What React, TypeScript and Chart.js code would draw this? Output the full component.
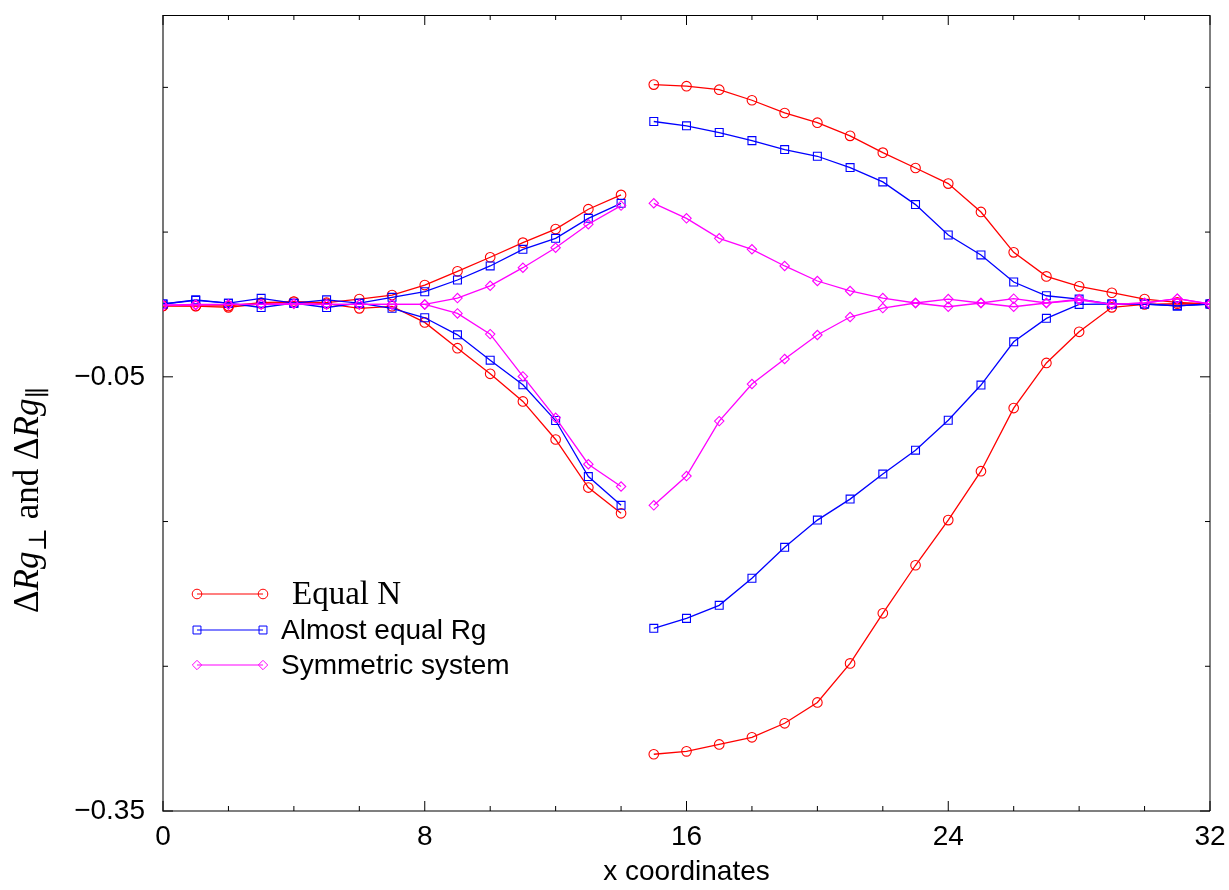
import { useEffect, useRef } from 'react';
import { Chart, registerables } from 'chart.js';

Chart.register(...registerables);

// x positions of the two halves of the profile
const xLeft = [0, 1, 2, 3, 4, 5, 6, 7, 8, 9, 10, 11, 12, 13, 14];
const xRight = [15, 16, 17, 18, 19, 20, 21, 22, 23, 24, 25, 26, 27, 28, 29, 30, 31, 32];

// Equal N
const equalNUpperLeft = [-0.001, -0.001, -0.001, 0.0012, 0.002, 0.0012, 0.0037, 0.0065, 0.0134, 0.0229, 0.0326, 0.0427, 0.0521, 0.0658, 0.0757];
const equalNLowerLeft = [-0.001, -0.0012, -0.002, 0.0005, 0.0018, 0.0005, -0.0027, -0.0013, -0.0124, -0.0302, -0.0479, -0.067, -0.0933, -0.1265, -0.1443];
const equalNUpperRight = [0.1519, 0.1508, 0.1484, 0.1411, 0.1323, 0.1256, 0.1165, 0.1049, 0.0943, 0.0835, 0.0639, 0.036, 0.0194, 0.0125, 0.0081, 0.0037, 0.0015, 0.0003];
const equalNLowerRight = [-0.3108, -0.3088, -0.304, -0.2991, -0.2894, -0.275, -0.248, -0.2134, -0.1802, -0.149, -0.1152, -0.0716, -0.0404, -0.0189, -0.002, 0.0, 0.0005, 0.0003];

// Almost equal Rg
const almostRgUpperLeft = [0.0003, 0.0032, 0.0009, 0.0042, 0.0009, 0.0032, 0.0009, 0.0049, 0.0088, 0.0169, 0.0266, 0.0381, 0.0457, 0.0595, 0.0699];
const almostRgLowerLeft = [0.0003, 0.0028, 0.0009, -0.0021, 0.0009, -0.0021, 0.0009, -0.0027, -0.0092, -0.021, -0.0385, -0.0555, -0.0802, -0.1189, -0.1388];
const almostRgUpperRight = [0.1264, 0.1234, 0.1188, 0.1132, 0.107, 0.1024, 0.0946, 0.0847, 0.069, 0.048, 0.0342, 0.0155, 0.006, 0.0037, 0.0003, 0.0003, -0.001, 0.0003];
const almostRgLowerRight = [-0.2238, -0.2169, -0.2079, -0.1892, -0.1678, -0.149, -0.1345, -0.1172, -0.1007, -0.08, -0.0557, -0.0258, -0.0096, 0.0, 0.0003, 0.0003, -0.001, 0.0003];

// Symmetric system
const symmetricUpperLeft = [-0.0005, 0.0, 0.0, 0.0, 0.0005, 0.0, 0.0, 0.0, 0.0, 0.0044, 0.0129, 0.0254, 0.0392, 0.0554, 0.0683];
const symmetricLowerLeft = [-0.0005, -0.0005, 0.0, 0.0, 0.0005, 0.0, 0.0, 0.0, 0.0, -0.0062, -0.0205, -0.0497, -0.0783, -0.1104, -0.1258];
const symmetricUpperRight = [0.0699, 0.0595, 0.0457, 0.0381, 0.0266, 0.0162, 0.0093, 0.0044, 0.001, 0.0037, 0.001, 0.004, 0.001, 0.0037, 0.0, 0.001, 0.004, 0.0003];
const symmetricLowerRight = [-0.1388, -0.1186, -0.0806, -0.055, -0.0377, -0.0211, -0.0087, -0.0025, 0.001, -0.0016, 0.001, -0.0016, 0.001, 0.003, 0.0, 0.001, 0.004, 0.0003];

// axis ticks
const xTickLabels = [0, 8, 16, 24, 32];
const xTickMarks = [0, 2, 4, 6, 8, 10, 12, 14, 16, 18, 20, 22, 24, 26, 28, 30, 32];
const yTickLabels = [-0.35, -0.05];
const yTickMarks = [-0.35, -0.25, -0.15, -0.05, 0.05, 0.15];

const SANS = '"Liberation Sans", Arial, Helvetica, sans-serif';
const SERIF = '"Liberation Serif", "DejaVu Serif", "Times New Roman", serif';

type Marker = 'circle' | 'rect' | 'rectRot';

interface Series {
  name: string;
  nameFont: string;
  color: string;
  marker: Marker;
  radius: number;
  branches: [number[], number[]][];
}

const series: Series[] = [
  {
    name: 'Symmetric system',
    nameFont: `28px ${SANS}`,
    color: '#ff00ff',
    marker: 'rectRot',
    radius: 4.7,
    branches: [
      [xLeft, symmetricUpperLeft],
      [xLeft, symmetricLowerLeft],
      [xRight, symmetricUpperRight],
      [xRight, symmetricLowerRight],
    ],
  },
  {
    name: 'Almost equal Rg',
    nameFont: `28px ${SANS}`,
    color: '#0000ff',
    marker: 'rect',
    radius: 5.6,
    branches: [
      [xLeft, almostRgUpperLeft],
      [xLeft, almostRgLowerLeft],
      [xRight, almostRgUpperRight],
      [xRight, almostRgLowerRight],
    ],
  },
  {
    name: 'Equal N',
    nameFont: `33px ${SERIF}`,
    color: '#ff0000',
    marker: 'circle',
    radius: 4.8,
    branches: [
      [xLeft, equalNUpperLeft],
      [xLeft, equalNLowerLeft],
      [xRight, equalNUpperRight],
      [xRight, equalNLowerRight],
    ],
  },
];

function drawMarker(ctx: CanvasRenderingContext2D, m: Marker, x: number, y: number, r: number) {
  ctx.beginPath();
  if (m === 'circle') {
    ctx.arc(x, y, r, 0, Math.PI * 2);
  } else if (m === 'rect') {
    const s = r * Math.SQRT1_2;
    ctx.rect(x - s, y - s, 2 * s, 2 * s);
  } else {
    ctx.moveTo(x - r, y);
    ctx.lineTo(x, y - r);
    ctx.lineTo(x + r, y);
    ctx.lineTo(x, y + r);
    ctx.closePath();
  }
  ctx.stroke();
}

// closed frame with inward tick marks on all four sides
const framePlugin = {
  id: 'frame',
  beforeDatasetsDraw(chart: any) {
    const { ctx, chartArea } = chart;
    const { left, right, top, bottom } = chartArea;
    const xs = chart.scales.x;
    const ys = chart.scales.y;
    ctx.save();
    ctx.lineWidth = 1;
    // left and bottom edges are slightly heavier, grey
    ctx.strokeStyle = '#555';
    ctx.lineWidth = 1.6;
    ctx.beginPath();
    ctx.moveTo(left, top);
    ctx.lineTo(left, bottom);
    ctx.lineTo(right, bottom);
    ctx.stroke();
    ctx.strokeStyle = '#000';
    ctx.lineWidth = 1;
    ctx.beginPath();
    ctx.moveTo(left, top + 0.5);
    ctx.lineTo(right, top + 0.5);
    ctx.lineTo(right, bottom);
    ctx.stroke();
    ctx.beginPath();
    xTickMarks.forEach((v) => {
      const px = xs.getPixelForValue(v);
      const len = xTickLabels.includes(v) ? 10 : 5;
      ctx.moveTo(px, bottom);
      ctx.lineTo(px, bottom - len);
      ctx.moveTo(px, top);
      ctx.lineTo(px, top + len);
    });
    yTickMarks.forEach((v) => {
      const py = ys.getPixelForValue(v);
      const len = yTickLabels.includes(v) ? 10 : 5;
      ctx.moveTo(left, py);
      ctx.lineTo(left + len, py);
      ctx.moveTo(right, py);
      ctx.lineTo(right - len, py);
    });
    ctx.stroke();
    ctx.restore();
  },
};

// legend inside the plot area and the rotated y-axis title with subscripts
const annotationPlugin = {
  id: 'annotations',
  afterDraw(chart: any) {
    const { ctx } = chart;
    ctx.save();

    const legendOrder = [series[2], series[1], series[0]];
    const rows = [594, 630, 665];
    const textX = [292, 281, 281];
    legendOrder.forEach((s, i) => {
      const y = rows[i];
      ctx.strokeStyle = s.color;
      ctx.lineWidth = 1.2;
      ctx.beginPath();
      ctx.moveTo(197, y);
      ctx.lineTo(263, y);
      ctx.stroke();
      ctx.lineWidth = 1;
      drawMarker(ctx, s.marker, 197, y, s.radius);
      drawMarker(ctx, s.marker, 263, y, s.radius);
      ctx.fillStyle = '#000';
      ctx.font = s.nameFont;
      ctx.textAlign = 'left';
      ctx.textBaseline = 'middle';
      ctx.fillText(s.name, textX[i], y + 1);
    });

    const S = 35;
    const parts = [
      { t: '\u0394', f: `${S}px ${SERIF}`, dy: 0 },
      { t: 'Rg', f: `italic ${S}px ${SERIF}`, dy: 0 },
      { t: '\u22A5', f: `${Math.round(S * 0.7)}px "DejaVu Serif", serif`, dy: S * 0.22 },
      { t: ' and ', f: `${S}px ${SERIF}`, dy: 0 },
      { t: '\u0394', f: `${S}px ${SERIF}`, dy: 0 },
      { t: 'Rg', f: `italic ${S}px ${SERIF}`, dy: 0 },
      { t: '\u2225', f: `${Math.round(S * 0.7)}px "DejaVu Serif", serif`, dy: S * 0.22 },
    ];
    let total = 0;
    const widths = parts.map((p) => {
      ctx.font = p.f;
      const w = ctx.measureText(p.t).width;
      total += w;
      return w;
    });
    ctx.translate(38, 500);
    ctx.rotate(-Math.PI / 2);
    ctx.fillStyle = '#000';
    ctx.textBaseline = 'alphabetic';
    ctx.textAlign = 'left';
    let cx = -total / 2;
    parts.forEach((p, i) => {
      ctx.font = p.f;
      ctx.fillText(p.t, cx, p.dy);
      cx += widths[i];
    });
    ctx.restore();
  },
};

export default function App() {
  const canvasRef = useRef<HTMLCanvasElement | null>(null);

  useEffect(() => {
    if (!canvasRef.current) return;

    const datasets: any[] = [];
    series.forEach((s) => {
      s.branches.forEach(([xs, ys]) => {
        datasets.push({
          label: s.name,
          data: xs.map((x, i) => ({ x, y: ys[i] })),
          borderColor: s.color,
          backgroundColor: 'rgba(0,0,0,0)',
          borderWidth: 1.3,
          pointStyle: s.marker,
          pointRadius: s.radius,
          pointBorderColor: s.color,
          pointBackgroundColor: 'rgba(0,0,0,0)',
          pointBorderWidth: 1.1,
          tension: 0,
          fill: false,
        });
      });
    });

    const chart = new Chart(canvasRef.current, {
      type: 'line',
      data: { datasets },
      options: {
        animation: false,
        responsive: false,
        maintainAspectRatio: false,
        devicePixelRatio: 1,
        layout: { padding: { top: 15, right: 19, bottom: 0, left: 0 } },
        plugins: {
          legend: { display: false },
          tooltip: { enabled: false },
        },
        scales: {
          x: {
            type: 'linear',
            min: 0,
            max: 32,
            grid: { display: false, drawTicks: false },
            border: { display: false },
            afterBuildTicks: (scale: any) => {
              scale.ticks = xTickLabels.map((v) => ({ value: v }));
            },
            afterFit: (scale: any) => {
              scale.height = 79;
              scale.paddingLeft = 0;
              scale.paddingRight = 0;
            },
            ticks: {
              color: '#000',
              padding: 9,
              maxRotation: 0,
              autoSkip: false,
              font: { family: SANS, size: 28 },
              callback: (v: any) => String(v),
            },
            title: {
              display: true,
              text: 'x coordinates',
              color: '#000',
              font: { family: SANS, size: 28 },
              padding: { top: 0, bottom: 1 },
            },
          },
          y: {
            type: 'linear',
            min: -0.35,
            max: 0.2,
            grid: { display: false, drawTicks: false },
            border: { display: false },
            afterBuildTicks: (scale: any) => {
              scale.ticks = yTickLabels.map((v) => ({ value: v }));
            },
            afterFit: (scale: any) => {
              scale.width = 163;
              scale.paddingTop = 0;
              scale.paddingBottom = 0;
            },
            ticks: {
              color: '#000',
              padding: 18,
              autoSkip: false,
              font: { family: SANS, size: 28 },
              callback: (v: any) => (Number(v) < 0 ? '\u2212' : '') + Math.abs(Number(v)).toFixed(2),
            },
          },
        },
      },
      plugins: [framePlugin, annotationPlugin],
    });

    return () => chart.destroy();
  }, []);

  return (
    <div style={{ position: 'fixed', left: 0, top: 0, width: 1229, height: 890, background: '#fff' }}>
      <canvas ref={canvasRef} width={1229} height={890} style={{ width: 1229, height: 890, display: 'block' }} />
    </div>
  );
}
